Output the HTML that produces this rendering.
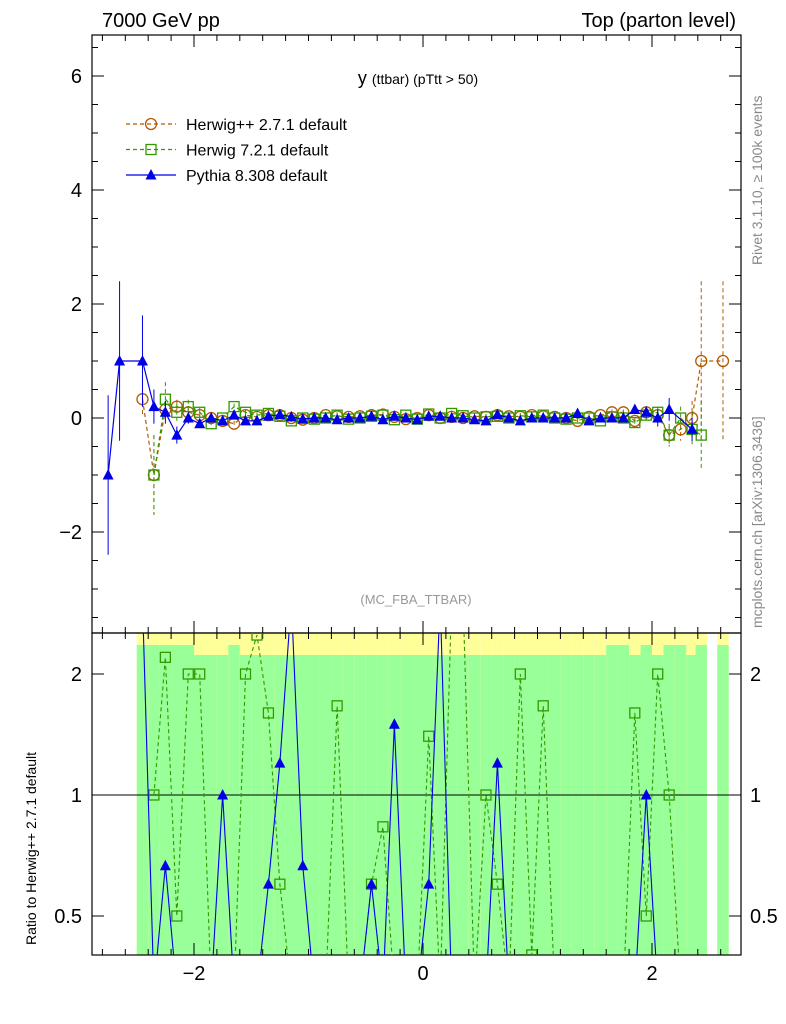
<!DOCTYPE html>
<html><head><meta charset="utf-8"><style>
html,body{margin:0;padding:0;background:#fff;font-family:"Liberation Sans",sans-serif;overflow:hidden;width:786px;height:1024px}
svg{display:block}
</style></head><body>
<svg id="c" width="786" height="1024" xmlns="http://www.w3.org/2000/svg" font-family="Liberation Sans, sans-serif">
<defs><clipPath id="mc"><rect x="92" y="35" width="649" height="598"/></clipPath><clipPath id="rc"><rect x="92" y="633" width="649" height="322"/></clipPath></defs>
<text x="102" y="27" font-size="20">7000 GeV pp</text>
<text x="736" y="27" font-size="20" text-anchor="end">Top (parton level)</text>
<text x="418" y="84" font-size="18" text-anchor="middle">y <tspan font-size="14">(ttbar) (pTtt &gt; 50)</tspan></text>
<text x="416" y="604" font-size="13" fill="#999" text-anchor="middle">(MC_FBA_TTBAR)</text>
<text transform="translate(762,265) rotate(-90)" font-size="14" fill="#888">Rivet 3.1.10, ≥ 100k events</text>
<text transform="translate(762,628) rotate(-90)" font-size="14" fill="#888">mcplots.cern.ch [arXiv:1306.3436]</text>
<text transform="translate(36,945) rotate(-90)" font-size="14">Ratio to Herwig++ 2.7.1 default</text>
<g id="bands" clip-path="url(#rc)"></g>
<g id="axes"></g>
<g id="main" clip-path="url(#mc)"></g>
<g id="ratio" clip-path="url(#rc)"></g>
<g id="legend"></g>
</svg>
<script>
const binCenters=[-2.75,-2.65,-2.55,-2.45,-2.35,-2.25,-2.15,-2.05,-1.95,-1.85,-1.75,-1.65,-1.55,-1.45,-1.35,-1.25,-1.15,-1.05,-0.95,-0.85,-0.75,-0.65,-0.55,-0.45,-0.35,-0.25,-0.15,-0.05,0.05,0.15,0.25,0.35,0.45,0.55,0.65,0.75,0.85,0.95,1.05,1.15,1.25,1.35,1.45,1.55,1.65,1.75,1.85,1.95,2.05,2.15,2.25,2.35,2.43,2.62];
const herwigpp=[null,null,null,0.33,-1.0,0.15,0.2,0.1,0.05,0.0,-0.05,-0.1,0.05,0.02,0.05,0.05,0.0,-0.03,0.0,0.05,0.03,0.02,0.03,0.05,0.06,0.02,-0.02,0.0,0.05,0.0,0.02,0.0,0.03,0.02,0.05,0.03,0.02,0.05,0.03,0.02,0.0,-0.05,0.02,0.05,0.1,0.1,-0.05,0.1,0.05,-0.3,-0.2,0.0,1.0,1.0];
const herwigppErr=[0,0,0,0.3,0.7,0.15,0.12,0.08,0.05,0.05,0.05,0.05,0.05,0.05,0.05,0.05,0.05,0.05,0.05,0.05,0.05,0.05,0.05,0.05,0.05,0.05,0.05,0.05,0.05,0.05,0.05,0.05,0.05,0.05,0.05,0.05,0.05,0.05,0.05,0.05,0.05,0.05,0.05,0.05,0.05,0.05,0.05,0.08,0.1,0.15,0.2,0.3,1.4,1.4];
const herwig7=[null,null,null,null,-1.0,0.33,0.1,0.2,0.1,-0.1,0.0,0.2,0.1,0.05,0.08,0.03,-0.05,0.0,-0.02,0.0,0.05,-0.02,0.0,0.03,0.05,-0.03,0.05,-0.02,0.07,0.0,0.08,0.04,0.0,0.02,0.03,0.0,0.04,0.02,0.05,0.0,-0.02,0.0,0.0,-0.05,0.02,0.0,-0.08,0.05,0.1,-0.3,0.0,-0.2,-0.3,null];
const herwig7Err=[0,0,0,0,0.7,0.3,0.15,0.12,0.08,0.05,0.05,0.05,0.05,0.05,0.05,0.05,0.05,0.05,0.05,0.05,0.05,0.05,0.05,0.05,0.05,0.05,0.05,0.05,0.05,0.05,0.05,0.05,0.05,0.05,0.05,0.05,0.05,0.05,0.05,0.05,0.05,0.05,0.05,0.05,0.05,0.05,0.05,0.08,0.1,0.2,0.2,0.3,0.6,0];
const pythia=[-1.0,1.0,null,1.0,0.2,0.1,-0.3,0.0,-0.1,0.0,-0.05,0.05,-0.05,-0.05,0.03,0.06,0.02,-0.02,0.0,0.0,-0.03,0.0,0.0,0.03,-0.03,0.03,0.0,-0.03,0.03,0.03,0.0,0.0,-0.03,-0.05,0.06,0.0,-0.05,0.0,0.0,0.0,0.0,0.08,-0.05,0.0,0.0,0.0,0.15,0.1,0.0,0.15,null,-0.2,null,null];
const pythiaErr=[1.4,1.4,0,0.8,0.3,0.2,0.15,0.1,0.07,0.05,0.05,0.05,0.05,0.05,0.05,0.05,0.05,0.05,0.05,0.05,0.05,0.05,0.05,0.05,0.05,0.05,0.05,0.05,0.05,0.05,0.05,0.05,0.05,0.05,0.05,0.05,0.05,0.05,0.05,0.05,0.05,0.05,0.05,0.05,0.05,0.05,0.08,0.1,0.15,0.2,0,0.2,0,0];
const mainTicks=[-2,0,2,4,6];
const ratioTicks=[0.5,1,2];
const xTicks=[-2,0,2];

const NS="http://www.w3.org/2000/svg";
const X=v=>423+114.5*v;
const Y=v=>418-57*v;
const R=v=>795-121*Math.log2(v);
function el(p,t,a){const e=document.createElementNS(NS,t);for(const k in a)e.setAttribute(k,a[k]);document.getElementById(p).appendChild(e);return e;}

binCenters.forEach((c,i)=>{
  if(herwigpp[i]===null)return;
  const x0=X(c-0.05),w=114.5*0.1;
  const big=Math.abs(herwigpp[i])<0.08;
  let b=el('bands','rect',{x:x0,y:633,width:w,height:322,fill:'#ffff99'});
  
  
  let g=el('bands','rect',{x:x0,y:big?655:645,width:w,height:big?300:310,fill:'#99ff99'});
  
  
});

[[35,633],[633,955]].forEach(([a,b])=>{let f=el('axes','rect',{x:92,y:a,width:649,height:b-a,fill:'none',stroke:'#000','stroke-width':1.2});});
let l1=el('axes','line',{x1:92,x2:741,y1:795,y2:795,stroke:'#000'});
mainTicks.forEach(t=>{const y=Y(t);el('axes','line',{x1:92,x2:104,y1:y,y2:y,stroke:'#000'});el('axes','line',{x1:729,x2:741,y1:y,y2:y,stroke:'#000'});
 let tx=el('axes','text',{x:82,y:y+7,'font-size':20,'text-anchor':'end'});tx.textContent=(t<0?'−':'')+Math.abs(t);});
for(let v=-3.5;v<=6.6;v+=0.5){const y=Y(v);if(y<35||y>633)continue;el('axes','line',{x1:92,x2:98,y1:y,y2:y,stroke:'#000'});el('axes','line',{x1:735,x2:741,y1:y,y2:y,stroke:'#000'});}
ratioTicks.forEach(t=>{const y=R(t);el('axes','line',{x1:92,x2:104,y1:y,y2:y,stroke:'#000'});el('axes','line',{x1:729,x2:741,y1:y,y2:y,stroke:'#000'});
 let a=el('axes','text',{x:82,y:y+7,'font-size':20,'text-anchor':'end'});a.textContent=t;
 let b=el('axes','text',{x:750,y:y+7,'font-size':20});b.textContent=t;});
xTicks.forEach(t=>{const x=X(t);[[35,47],[621,633],[633,645],[943,955]].forEach(([a,b])=>el('axes','line',{x1:x,x2:x,y1:a,y2:b,stroke:'#000'}));
 let tx=el('axes','text',{x:x,y:980,'font-size':20,'text-anchor':'middle'});tx.textContent=(t<0?'−':'')+Math.abs(t);});
for(let v=-2.8;v<=2.75;v+=0.2){const x=X(v);[[35,41],[627,633],[633,639],[949,955]].forEach(([a,b])=>el('axes','line',{x1:x,x2:x,y1:a,y2:b,stroke:'#000'}));}

const series=[
 {vals:herwigpp,err:herwigppErr,col:'#b35900',dash:'4,3',m:'circle',name:'herwigpp'},
 {vals:herwig7,err:herwig7Err,col:'#339900',dash:'4,3',m:'square',name:'herwig7'},
 {vals:pythia,err:pythiaErr,col:'#0000e6',dash:'',m:'tri',name:'pythia'}];
function marker(g,m,x,y,col){
  if(m==='circle')return el(g,'circle',{cx:x,cy:y,r:5.5,fill:'none',stroke:col,'stroke-width':1.3});
  if(m==='square')return el(g,'rect',{x:x-5,y:y-5,width:10,height:10,fill:'none',stroke:col,'stroke-width':1.3});
  return el(g,'polygon',{points:`${x},${y-6} ${x-5.5},${y+4.5} ${x+5.5},${y+4.5}`,fill:col});
}
series.forEach(s=>{
  let pts=[],rpts=[];
  binCenters.forEach((c,i)=>{
    const v=s.vals[i];if(v===null)return;
    const x=X(c),y=Y(v);pts.push(x+','+y);
    let e=el('main','line',{x1:x,x2:x,y1:Y(v+s.err[i]),y2:Y(v-s.err[i]),stroke:s.col,'stroke-dasharray':s.dash});
    
    let mk=marker('main',s.m,x,y,s.col);
    
    const h=herwigpp[i];
    if(h!==null&&s.name!=='herwigpp'){
      let r=v/h; let ry=r>0?R(r):990; ry=Math.max(600,Math.min(990,ry));
      rpts.push(x+','+ry);
      if(r>0&&ry>633&&ry<955){let rm=marker('ratio',s.m,x,ry,s.col);}
    }
  });
  let pl=el('main','polyline',{points:pts.join(' '),fill:'none',stroke:s.col,'stroke-width':1.2,'stroke-dasharray':s.dash});
  
  if(rpts.length){let rl=el('ratio','polyline',{points:rpts.join(' '),fill:'none',stroke:s.col,'stroke-width':1.1,'stroke-dasharray':s.dash});
  }
});
series.forEach((s,i)=>{const y=124+i*25.5;
  el('legend','line',{x1:126,x2:176,y1:y,y2:y,stroke:s.col,'stroke-dasharray':s.dash,'stroke-width':1.2});
  let m=marker('legend',s.m,151,y,s.col);
  let t=el('legend','text',{x:186,y:y+6,'font-size':16});
  t.textContent=['Herwig++ 2.7.1 default','Herwig 7.2.1 default','Pythia 8.308 default'][i];
  
});
</script>
</body></html>
